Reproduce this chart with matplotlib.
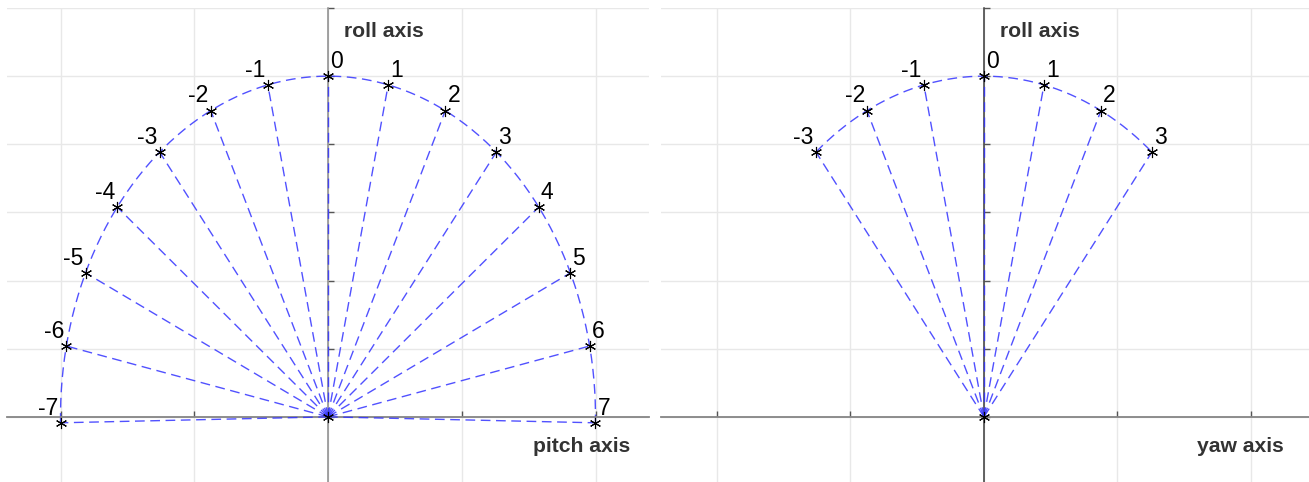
import numpy as np
import matplotlib
matplotlib.use("Agg")
import matplotlib.pyplot as plt

# Angular positions: index k sits at k * step degrees from the roll axis
step_deg = 13.0
pitch_steps = [-7, -6, -5, -4, -3, -2, -1, 0, 1, 2, 3, 4, 5, 6, 7]
yaw_steps = [-3, -2, -1, 0, 1, 2, 3]
radius = 1.0

panels = [
    dict(steps=pitch_steps, hlabel="pitch axis", hlabel_x=0.768, ycolor="#8a8a8a",
         rect_px=(7, 649), xlim=(-1.2, 1.2)),
    dict(steps=yaw_steps, hlabel="yaw axis", hlabel_x=0.80, ycolor="#3a3a3a",
         rect_px=(661, 1309), xlim=(-1.21, 1.218)),
]

W, H = 1309, 482
fig = plt.figure(figsize=(W / 100, H / 100), dpi=100)
fig.patch.set_facecolor("white")

plt.rcParams["font.family"] = ["Liberation Sans", "DejaVu Sans"]

line_color = (0.2, 0.2, 1.0, 0.85)
grid_color = "#e8e8e8"

for p in panels:
    x0, x1 = p["rect_px"]
    top_px, bot_px = 8, 485
    ax = fig.add_axes([x0 / W, 1 - bot_px / H, (x1 - x0) / W, (bot_px - top_px) / H])
    ax.set_xlim(*p["xlim"])
    ax.set_ylim(-0.2, 1.2)

    ax.set_xticks([-1.0, -0.5, 0.0, 0.5, 1.0])
    ax.set_yticks([-0.2, 0.0, 0.2, 0.4, 0.6, 0.8, 1.0, 1.2])
    ax.set_xticklabels([])
    ax.set_yticklabels([])
    ax.grid(True, color=grid_color, linewidth=1.0)
    ax.set_axisbelow(True)

    for s in ("top", "right"):
        ax.spines[s].set_visible(False)
    ax.spines["left"].set_position(("data", 0))
    ax.spines["bottom"].set_position(("data", 0))
    ax.spines["bottom"].set_color("#858585")
    ax.spines["left"].set_color(p["ycolor"])
    ax.spines["bottom"].set_linewidth(1.3)
    ax.spines["left"].set_linewidth(1.1)
    ax.tick_params(axis="x", direction="in", length=4, width=1, color="#555555")
    ax.tick_params(axis="y", direction="in", length=4, width=1, color="#555555")

    steps = np.array(p["steps"], dtype=float)
    ang = np.deg2rad(steps * step_deg)
    px = radius * np.sin(ang)
    py = radius * np.cos(ang)

    # arc through the end points of the rays
    t = np.linspace(ang.min(), ang.max(), 300)
    arc, = ax.plot(radius * np.sin(t), radius * np.cos(t), color=line_color,
                   linewidth=1.0, linestyle="--")
    arc.set_dashes((7, 4))

    # rays from the origin
    for xi, yi in zip(px, py):
        ray, = ax.plot([0, xi], [0, yi], color=line_color, linewidth=1.0,
                       linestyle="--", zorder=3)
        ray.set_dashes((7, 4))

    ax.plot(px, py, linestyle="none", marker=(6, 2, 0), markersize=8,
            markeredgecolor="black", markeredgewidth=0.8, zorder=4)
    ax.plot([0], [0], linestyle="none", marker=(6, 2, 0), markersize=8,
            markeredgecolor="black", markeredgewidth=0.8, zorder=4)

    for k, xi, yi in zip(p["steps"], px, py):
        if k < 0:
            ax.text(xi - 0.008, yi + 0.043, str(k), ha="right", va="center",
                    fontsize=16.5, color="black")
        else:
            ax.text(xi + 0.008, yi + 0.043, str(k), ha="left", va="center",
                    fontsize=16.5, color="black")

    ax.text(0.06, 1.132, "roll axis", ha="left", va="center", fontsize=15.2,
            fontweight="bold", color="#333333")
    ax.text(p["hlabel_x"], -0.088, p["hlabel"], ha="left", va="center",
            fontsize=15.2, fontweight="bold", color="#333333")

fig.savefig("out.png", dpi=100, facecolor="white")
